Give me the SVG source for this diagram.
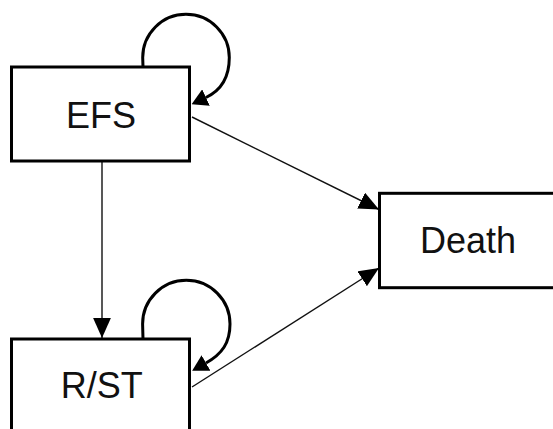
<svg xmlns="http://www.w3.org/2000/svg" width="553" height="429" viewBox="0 0 553 429">
  <style>
    .box { fill: #ffffff; stroke: #000000; stroke-width: 3; }
    .label { font-family: "Liberation Sans", Arial, sans-serif; font-size: 36px; fill: #111111; text-anchor: middle; }
    .edge { fill: none; stroke: #111111; stroke-width: 1.4; marker-end: url(#arrow); }
    .loop { fill: none; stroke: #000000; stroke-width: 3; marker-end: url(#loopArrow); }
  </style>
  <defs>
    <!-- straight transitions: tip sits on the path end -->
    <marker id="arrow" markerUnits="userSpaceOnUse" markerWidth="20" markerHeight="18" viewBox="0 0 18 16" refX="18" refY="8" orient="auto">
      <path d="M0,0 L18,8 L0,16 Z" fill="#000000"/>
    </marker>
    <!-- self transitions: base sits on the path end -->
    <marker id="loopArrow" markerUnits="userSpaceOnUse" markerWidth="16" markerHeight="18" viewBox="0 0 15 17" refX="0" refY="8.5" orient="auto">
      <path d="M0,0 L15,8.5 L0,17 Z" fill="#000000"/>
    </marker>
  </defs>

  <g id="connectors">
    <path class="edge" d="M192,117 L379,209.5"/>
    <path class="edge" d="M192,387 L379,268"/>
    <path class="edge" d="M102,161 L102,338"/>
    <path class="loop" d="M143,67 L142.7,57.6 A43.3,43.3 0 0 1 229.3,57.6 C229.3,78 220,91 206,97.5"/>
    <path class="loop" d="M143,339 L142.6,324 A43.7,43.7 0 0 1 230,324 C230,343 222,354 206,363"/>
  </g>

  <g id="efs">
    <rect class="box" x="11.5" y="67" width="178" height="94"/>
    <text class="label" x="101" y="128">EFS</text>
  </g>

  <g id="rst">
    <rect class="box" x="11.5" y="339" width="178" height="100"/>
    <text class="label" x="101.7" y="398">R/ST</text>
  </g>

  <g id="death">
    <rect class="box" x="379.5" y="193.3" width="200" height="94.4"/>
    <text class="label" x="468" y="253">Death</text>
  </g>
</svg>
